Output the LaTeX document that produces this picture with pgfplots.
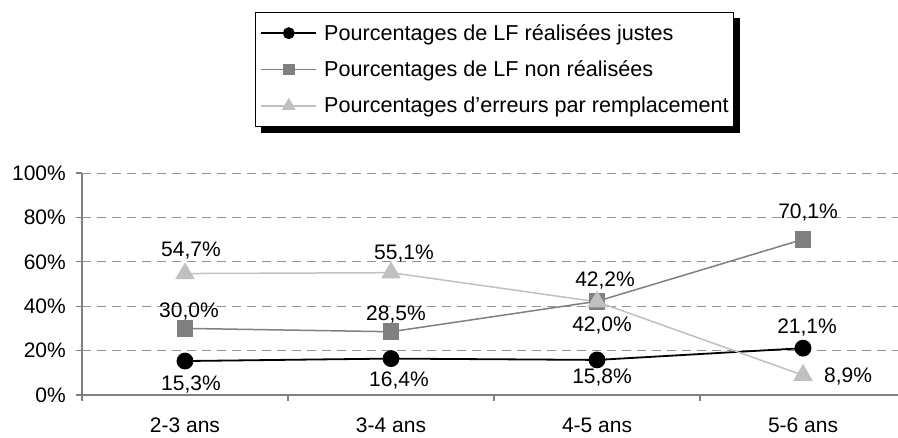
\documentclass[border=0pt]{standalone}
\usepackage{fontspec}
\setmainfont{Liberation Sans}
\usepackage{pgfplots}
\usepackage{pgfplotstable}
\pgfplotsset{compat=1.18}

\pgfdeclarelayer{background}
\pgfsetlayers{background,main}

\definecolor{sgray}{HTML}{808080}
\definecolor{lgray}{HTML}{C0C0C0}
\newcommand\fs{\fontsize{21}{25}\selectfont}
\newcommand\lfs{\fontsize{21.6}{26}\selectfont}

% x y dx dy  (dx, dy: label offset in pt)
\pgfplotstableread{
x y dx dy
0 15.3 6 -21.5
1 16.4 8 -20.4
2 15.8 5 -15.8
3 21.1 4 22.5
}\justes
\pgfplotstableread{
x y dx dy
0 30.0 4 18.4
1 28.5 5 18.7
2 42.2 8 22.3
3 70.1 5 28.7
}\nonreal
\pgfplotstableread{
x y dx dy
0 54.7 6 24.6
1 55.1 13 20.4
2 42.0 5 -22.2
3 8.9 45 0
}\remplac

\begin{document}
\begin{tikzpicture}
\path[use as bounding box] (-82pt,-42pt) rectangle (816pt,395pt);
\begin{axis}[
  scale only axis,
  width=816pt, height=222pt,
  xmin=-0.5, xmax=3.461,
  ymin=0, ymax=100,
  axis lines*=left,
  axis line style={sgray, line width=1.2pt},
  clip=false,
  xtick={-0.5,0.5,1.5,2.5}, xticklabels={},
  extra x ticks={0,1,2,3},
  extra x tick labels={2-3 ans,3-4 ans,4-5 ans,5-6 ans},
  extra x tick style={major tick length=0pt, grid=none},
  ytick={0,20,40,60,80,100},
  yticklabel={\pgfmathprintnumber{\tick}\%},
  tick align=outside,
  major tick length=6pt,
  tick style={sgray, line width=1.2pt},
  /pgf/number format/assume math mode=true,
  tick label style={font=\fs, inner sep=0pt},
  xticklabel style={yshift=-22.5pt},
  yticklabel style={xshift=-10pt},
  ymajorgrids,
  grid style={sgray!85, dash pattern=on 9pt off 6pt, line width=0.8pt},
  nodes near coords={\pgfmathprintnumber[fixed,fixed zerofill,precision=1,use comma,assume math mode=true]{\pgfplotspointmeta}\%},
  point meta=y,
  visualization depends on={\thisrow{dx} \as \dx},
  visualization depends on={\thisrow{dy} \as \dy},
  every node near coord/.append style={anchor=base, inner sep=0pt, text=black, font=\fs,
    xshift=\dx*1pt, yshift=\dy*1pt-7.5pt},
  legend style={name=leg, at={(0.212,1.725)}, anchor=north west, draw=black, fill=white,
    font=\lfs, line width=0.8pt,
    inner xsep=5pt, inner ysep=12pt, row sep=19pt,
    nodes={inner sep=0pt}},
  legend cell align=left,
  legend image code/.code={\draw[mark repeat=2, mark phase=2, every mark/.append style={scale=0.67}]
    plot coordinates {(0pt,0pt) (27.5pt,0pt) (55pt,0pt)};
    \path (62pt,0pt);},
]
\addplot[black, line width=1.8pt, mark=*, mark size=7.5pt, mark options={solid, fill=black}]
  table[x=x, y=y] {\justes};
\addplot[sgray, line width=1.5pt, mark=square*, mark size=7.5pt, mark options={solid, fill=sgray}]
  table[x=x, y=y] {\nonreal};
\addplot[lgray, line width=1.5pt, mark=triangle*, mark size=9.8pt, mark options={solid, fill=lgray}]
  table[x=x, y=y] {\remplac};
\legend{Pourcentages de LF réalisées justes, Pourcentages de LF non réalisées, Pourcentages d'erreurs par remplacement}
\end{axis}
% legend shadow
\begin{pgfonlayer}{background}
\fill[black] ([shift={(6pt,-6pt)}]leg.south west) rectangle ([shift={(6pt,-6pt)}]leg.north east);
\end{pgfonlayer}
\end{tikzpicture}
\end{document}
